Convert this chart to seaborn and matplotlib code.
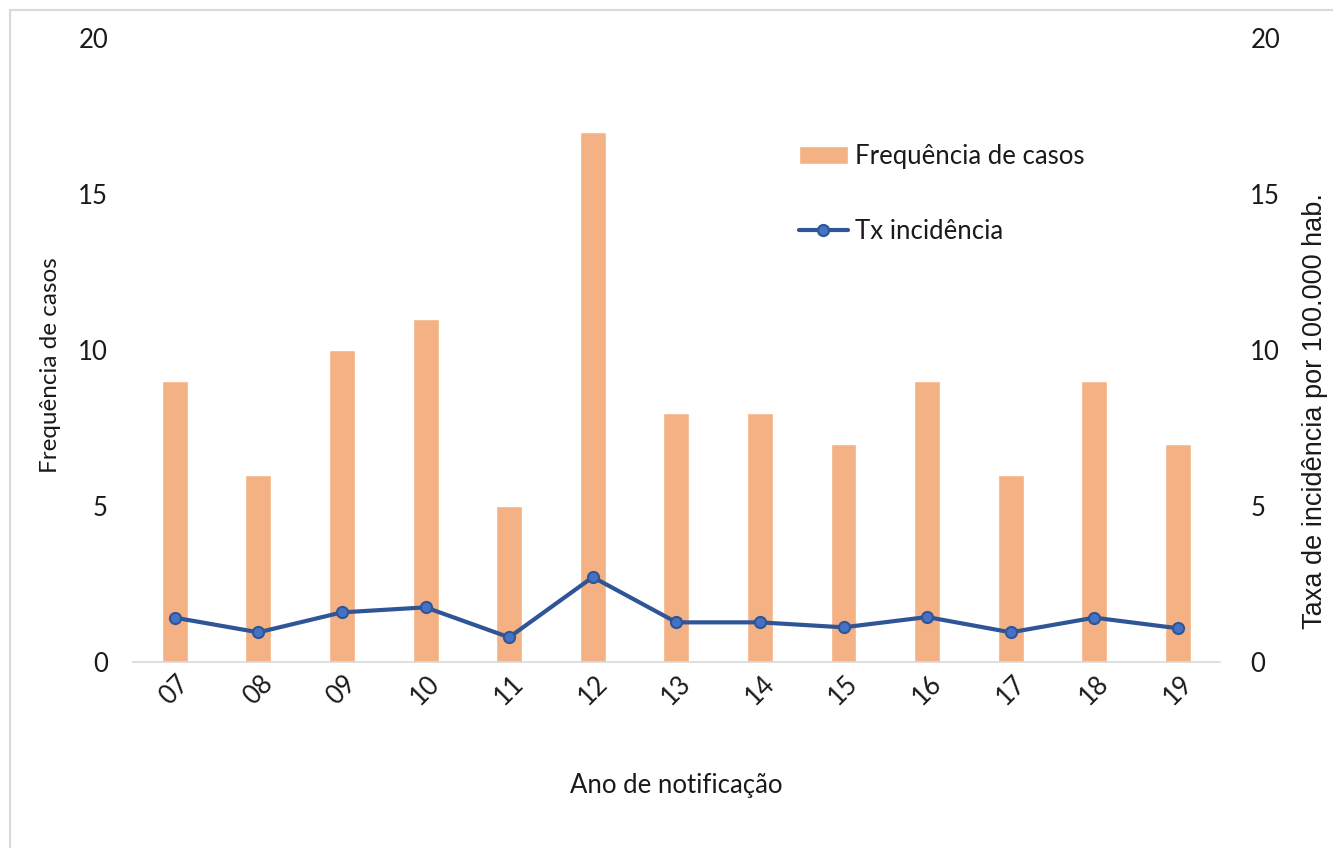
import matplotlib
matplotlib.use("Agg")
import matplotlib.pyplot as plt
import seaborn as sns
import pandas as pd
import numpy as np
from matplotlib.patches import Rectangle

# Notification years (two-digit) and series
anos = ["07", "08", "09", "10", "11", "12", "13", "14", "15", "16", "17", "18", "19"]
casos = [9, 6, 10, 11, 5, 17, 8, 8, 7, 9, 6, 9, 7]
tx_incidencia = [1.43, 0.96, 1.60, 1.76, 0.80, 2.73, 1.28, 1.28, 1.12, 1.45, 0.96, 1.43, 1.09]

df = pd.DataFrame({"ano": anos, "casos": casos, "tx": tx_incidencia})

sns.set_theme(style="white")
plt.rcParams["font.family"] = ["Lato", "DejaVu Sans"]

bar_color = "#F4B183"
line_color = "#2F5597"
marker_color = "#4472C4"
text_color = "#1a1a1a"
fs = 18.5
fs_ylab = 17.5

fig = plt.figure(figsize=(13.33, 8.48), dpi=100)
ax = fig.add_axes([0.0998, 0.219, 0.8152, 0.736])

sns.barplot(data=df, x="ano", y="casos", color=bar_color, width=0.31,
            saturation=1, ax=ax, label="Frequência de casos", legend=False)

ax2 = ax.twinx()
ax2.plot(np.arange(len(anos)), df["tx"], color=line_color, lw=3,
         marker="o", ms=8, mfc=marker_color, mec=line_color, mew=1.5,
         label="Tx incidência")

for a in (ax, ax2):
    a.set_ylim(0, 20)
    a.set_yticks([0, 5, 10, 15, 20])
    for s in a.spines.values():
        s.set_visible(False)
    a.tick_params(axis="both", length=0, labelsize=fs, colors=text_color)
ax.set_xlim(-0.5, len(anos) - 0.5)
ax.spines["bottom"].set_visible(True)
ax.spines["bottom"].set_color("#d9d9d9")
ax.spines["bottom"].set_linewidth(1.2)

ax.tick_params(axis="y", pad=18)
ax2.tick_params(axis="y", pad=22)
ax.tick_params(axis="x", pad=6)
plt.setp(ax.get_xticklabels(), rotation=45, ha="center", va="top",
         rotation_mode="default")

ax.set_xlabel("Ano de notificação", fontsize=fs, color=text_color, labelpad=46)
ax.set_ylabel("Frequência de casos", fontsize=fs_ylab, color=text_color)
ax2.set_ylabel("Taxa de incidência por 100.000 hab.", fontsize=19.5,
               family=["Liberation Sans", "DejaVu Sans"], color=text_color)

# Place the two axis titles at fixed offsets, centred on their own anchor
ax.yaxis.set_label_coords(-0.0764, 0.476)
ax.yaxis.label.set_verticalalignment("center")
ax2.yaxis.set_label_coords(1.0875, 0.402)
ax2.yaxis.label.set_verticalalignment("center")

h1, l1 = ax.get_legend_handles_labels()
h2, l2 = ax2.get_legend_handles_labels()
if ax.get_legend() is not None:
    ax.get_legend().remove()
leg = ax2.legend(h1 + h2, l1 + l2, loc="upper left",
                 bbox_to_anchor=(0.582, 0.858), bbox_transform=fig.transFigure,
                 frameon=False, fontsize=fs, labelspacing=1.95,
                 handlelength=1.9, handletextpad=0.3)
for t in leg.get_texts():
    t.set_color(text_color)

# Light frame around the chart area
fig.patches.append(Rectangle((10 / 1333, -0.01), 1.02, 1 - 10 / 848 + 0.01,
                             transform=fig.transFigure, fill=False,
                             edgecolor="#d9d9d9", lw=1.5, clip_on=False))

fig.savefig("out.png", dpi=100, facecolor="white")
